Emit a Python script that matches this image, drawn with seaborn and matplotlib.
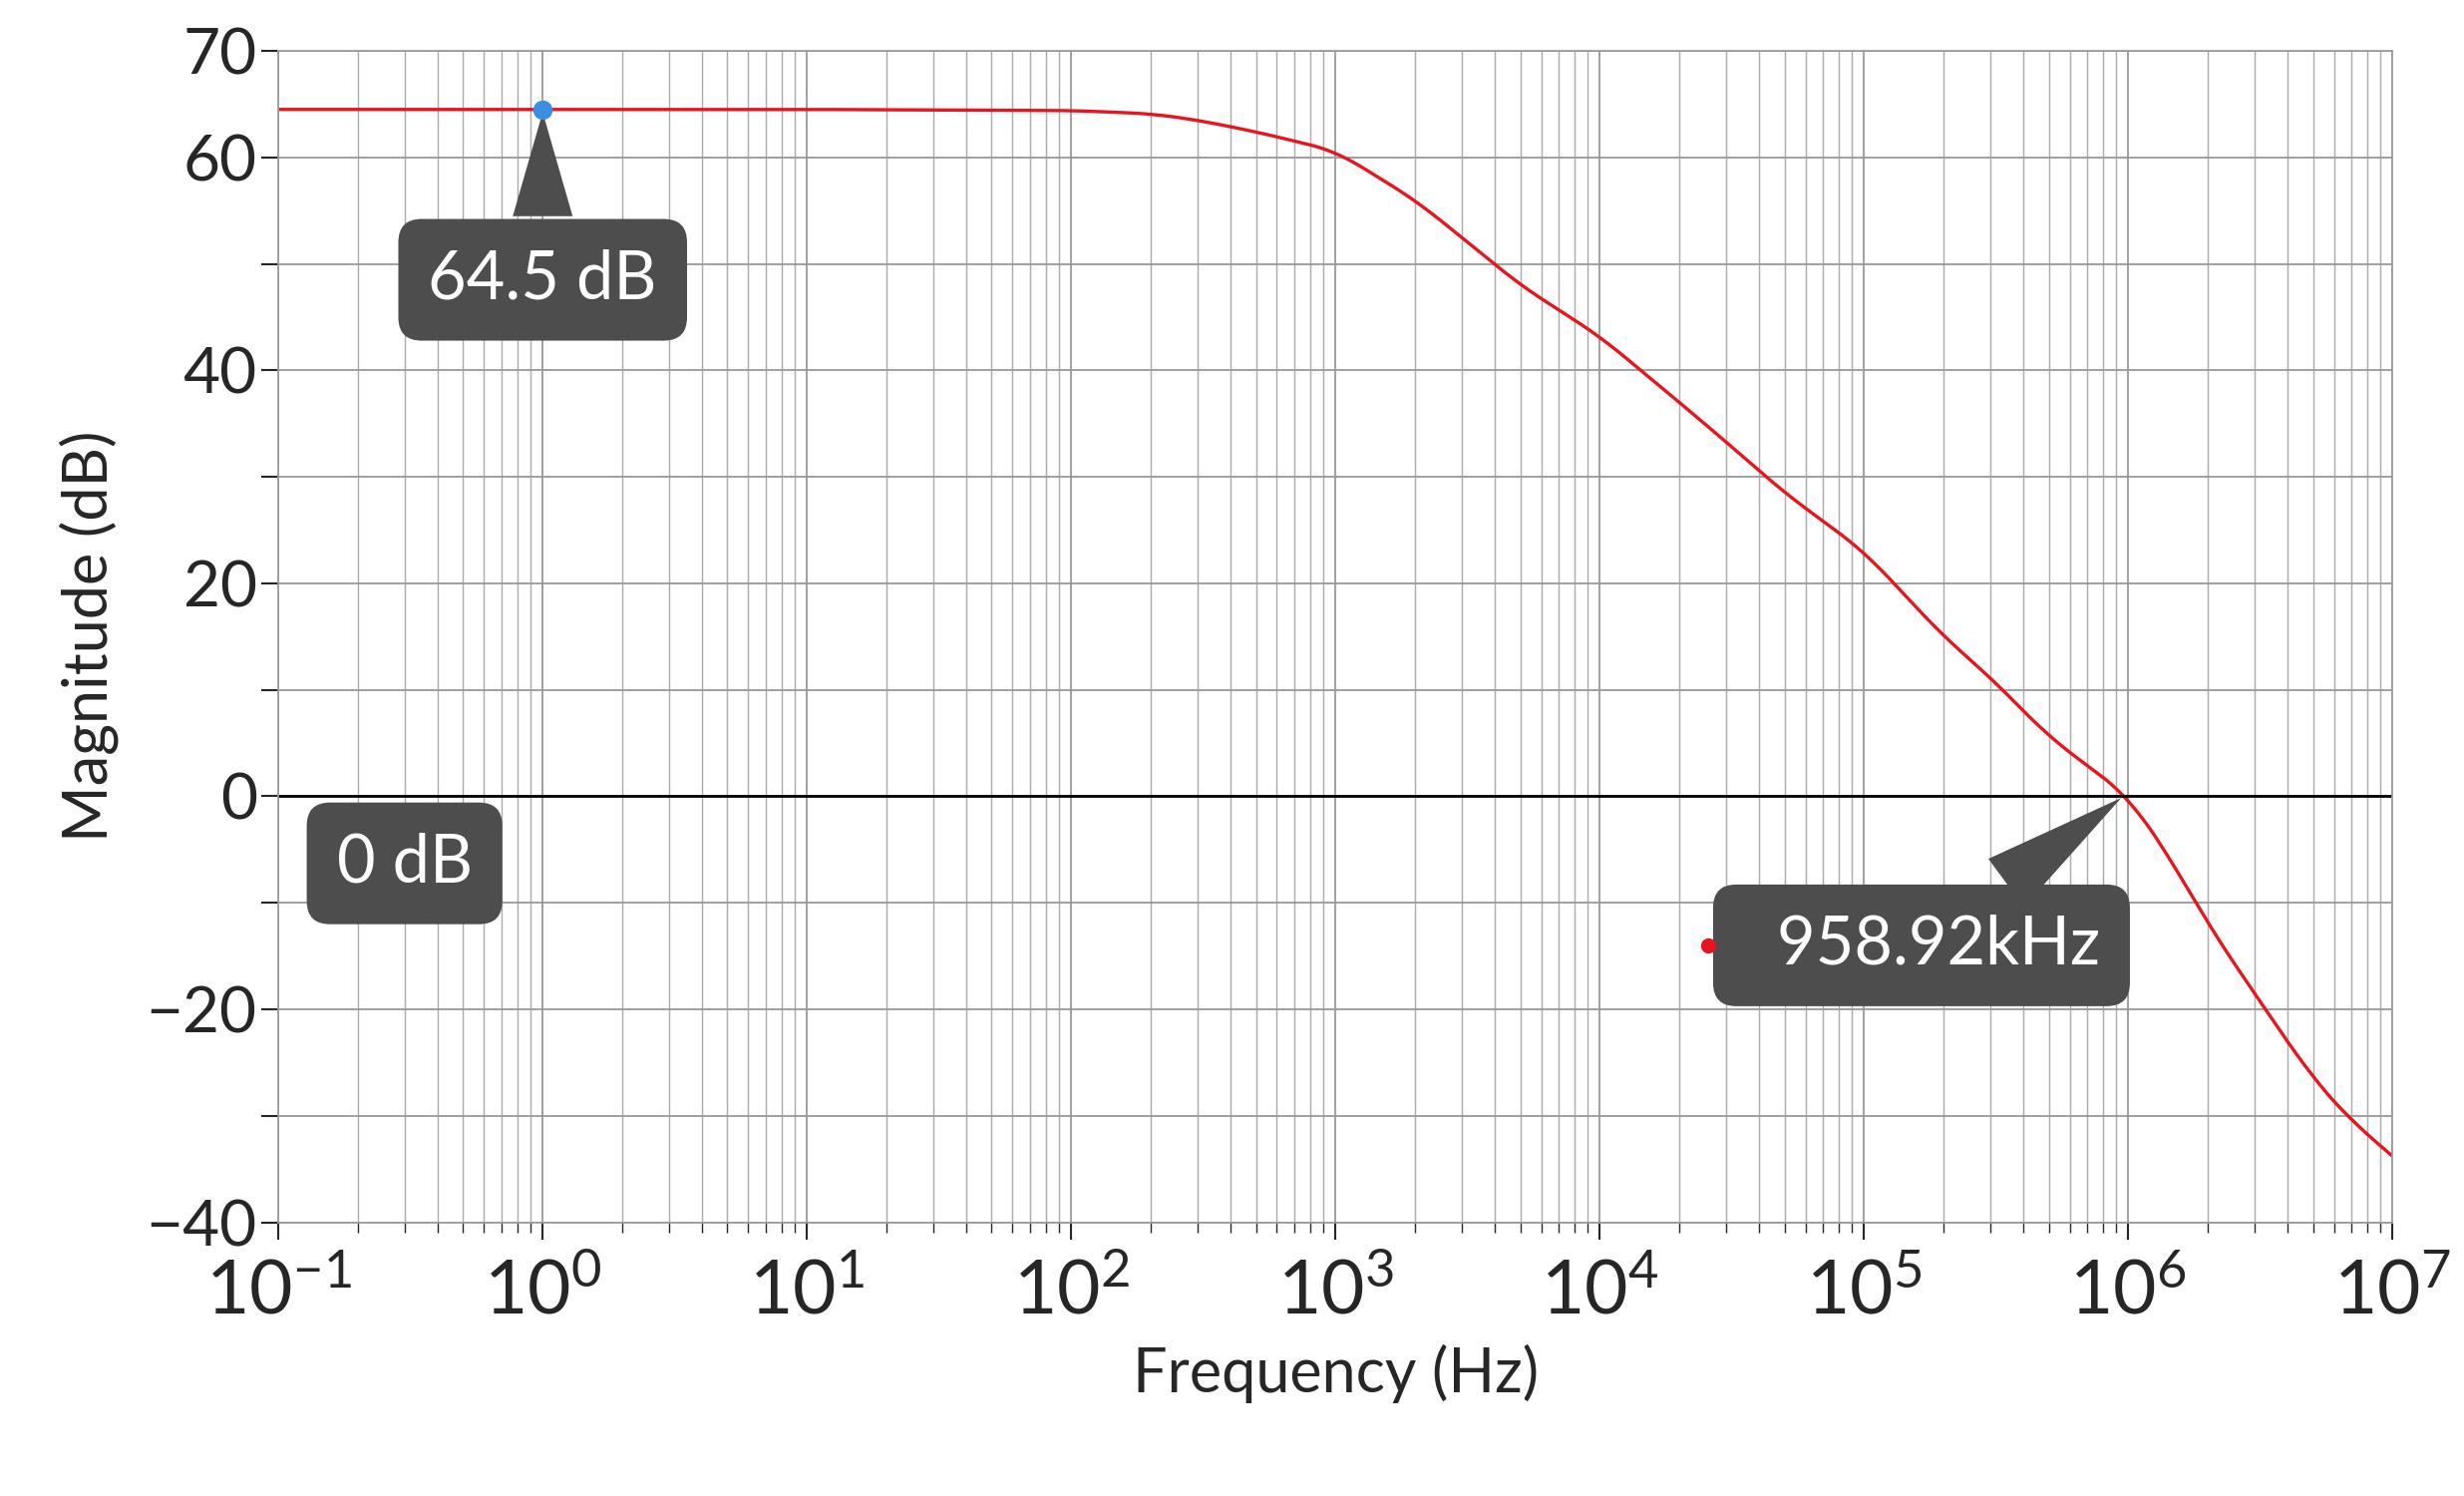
import numpy as np
import matplotlib
matplotlib.use("Agg")
import matplotlib.pyplot as plt
import seaborn as sns
import pandas as pd

freq = [0.1, 1, 10, 100, 200, 300, 500, 1000, 2000, 3000, 5000, 1e4, 2e4, 3e4, 5e4, 1e5, 2e5, 3e5, 5e5, 1e6, 1.5e6, 2e6, 3e6, 5e6, 7e6, 1e7]
mag = [64.5, 64.5, 64.5, 64.4, 64.1, 63.5, 62.4, 60.6, 56.0, 52.5, 48.0, 43.2, 37.0, 33.3, 28.5, 23.0, 15.0, 11.2, 5.6, 0.0, -6.5, -12.0, -18.5, -26.5, -30.5, -33.8]
yticks = [-40, -30, -20, -10, 0, 10, 20, 30, 40, 50, 60, 70]
ylabels = ["−40", "", "−20", "", "0", "", "20", "", "40", "", "60", "70"]

sns.set_theme(style="white")
plt.rcParams['font.family'] = ['Lato', 'DejaVu Sans']
plt.rcParams['mathtext.fontset'] = 'custom'
plt.rcParams['mathtext.rm'] = 'Lato'
fig = plt.figure(figsize=(24.71, 15), dpi=100)
ax = fig.add_axes([0.113, 0.183, 0.858, 0.783])
lf = np.logspace(-1, 7, 1600)
mi = np.interp(np.log10(lf), np.log10(freq), mag)
k = 41
pad = np.concatenate([np.full(k // 2, mi[0]), mi, mi[-1] + (mi[-1] - mi[-2]) * np.arange(1, k // 2 + 1)])
ms = np.convolve(pad, np.ones(k) / k, mode="valid")
df = pd.DataFrame({"f": lf, "m": ms})
sns.lineplot(data=df, x="f", y="m", ax=ax, color="#e8141e", lw=2.4)
ax.set_xscale("log")
ax.set_xlim(0.1, 1e7)
ax.set_ylim(-40, 70)
ax.set_yticks(yticks)
ax.set_yticklabels(ylabels)
ax.xaxis.set_minor_locator(matplotlib.ticker.LogLocator(subs=np.arange(2, 10), numticks=100))
ax.grid(True, which="major", axis="both", color="#999999", lw=1.3)
ax.grid(True, which="minor", axis="x", color="#aaaaaa", lw=1.0)
ax.tick_params(axis="both", which="major", length=12, width=1.5, direction="out", left=True, bottom=True)
ax.tick_params(axis="y", labelsize=46)
ax.tick_params(axis="x", labelsize=54, pad=14)
ax.tick_params(axis="x", which="minor", length=7, bottom=True)
for s in ax.spines.values():
    s.set_color("#999999")
ax.axhline(0, color="black", lw=2)
ax.set_xlabel("Frequency (Hz)", fontsize=44, labelpad=12)
ax.set_ylabel("Magnitude (dB)", fontsize=44, labelpad=20)

box = dict(boxstyle="round,pad=0.45,rounding_size=0.35", fc="#4d4d4d", ec="none")
arw = dict(arrowstyle="wedge,tail_width=0.9,shrink_factor=0.5", fc="#4d4d4d", ec="none")
ax.plot([1], [64.5], "o", color="#3b8ee0", ms=13, zorder=5)
ax.annotate("64.5 dB", xy=(1, 64.5), xytext=(1, 48.5), ha="center", va="center",
            fontsize=48, color="white", bbox=box, arrowprops=arw)
ax.text(0.3, -6.3, "0 dB", ha="center", va="center", fontsize=48, color="white", bbox=box)
ax.annotate("  958.92kHz", xy=(958920, 0), xytext=(1.65e5, -14), ha="center", va="center",
            fontsize=48, color="white", bbox=box, arrowprops=arw)
ax.plot([2.57e4], [-14], "o", color="#e8141e", ms=10, zorder=6)
fig.savefig("out.png", dpi=100)
